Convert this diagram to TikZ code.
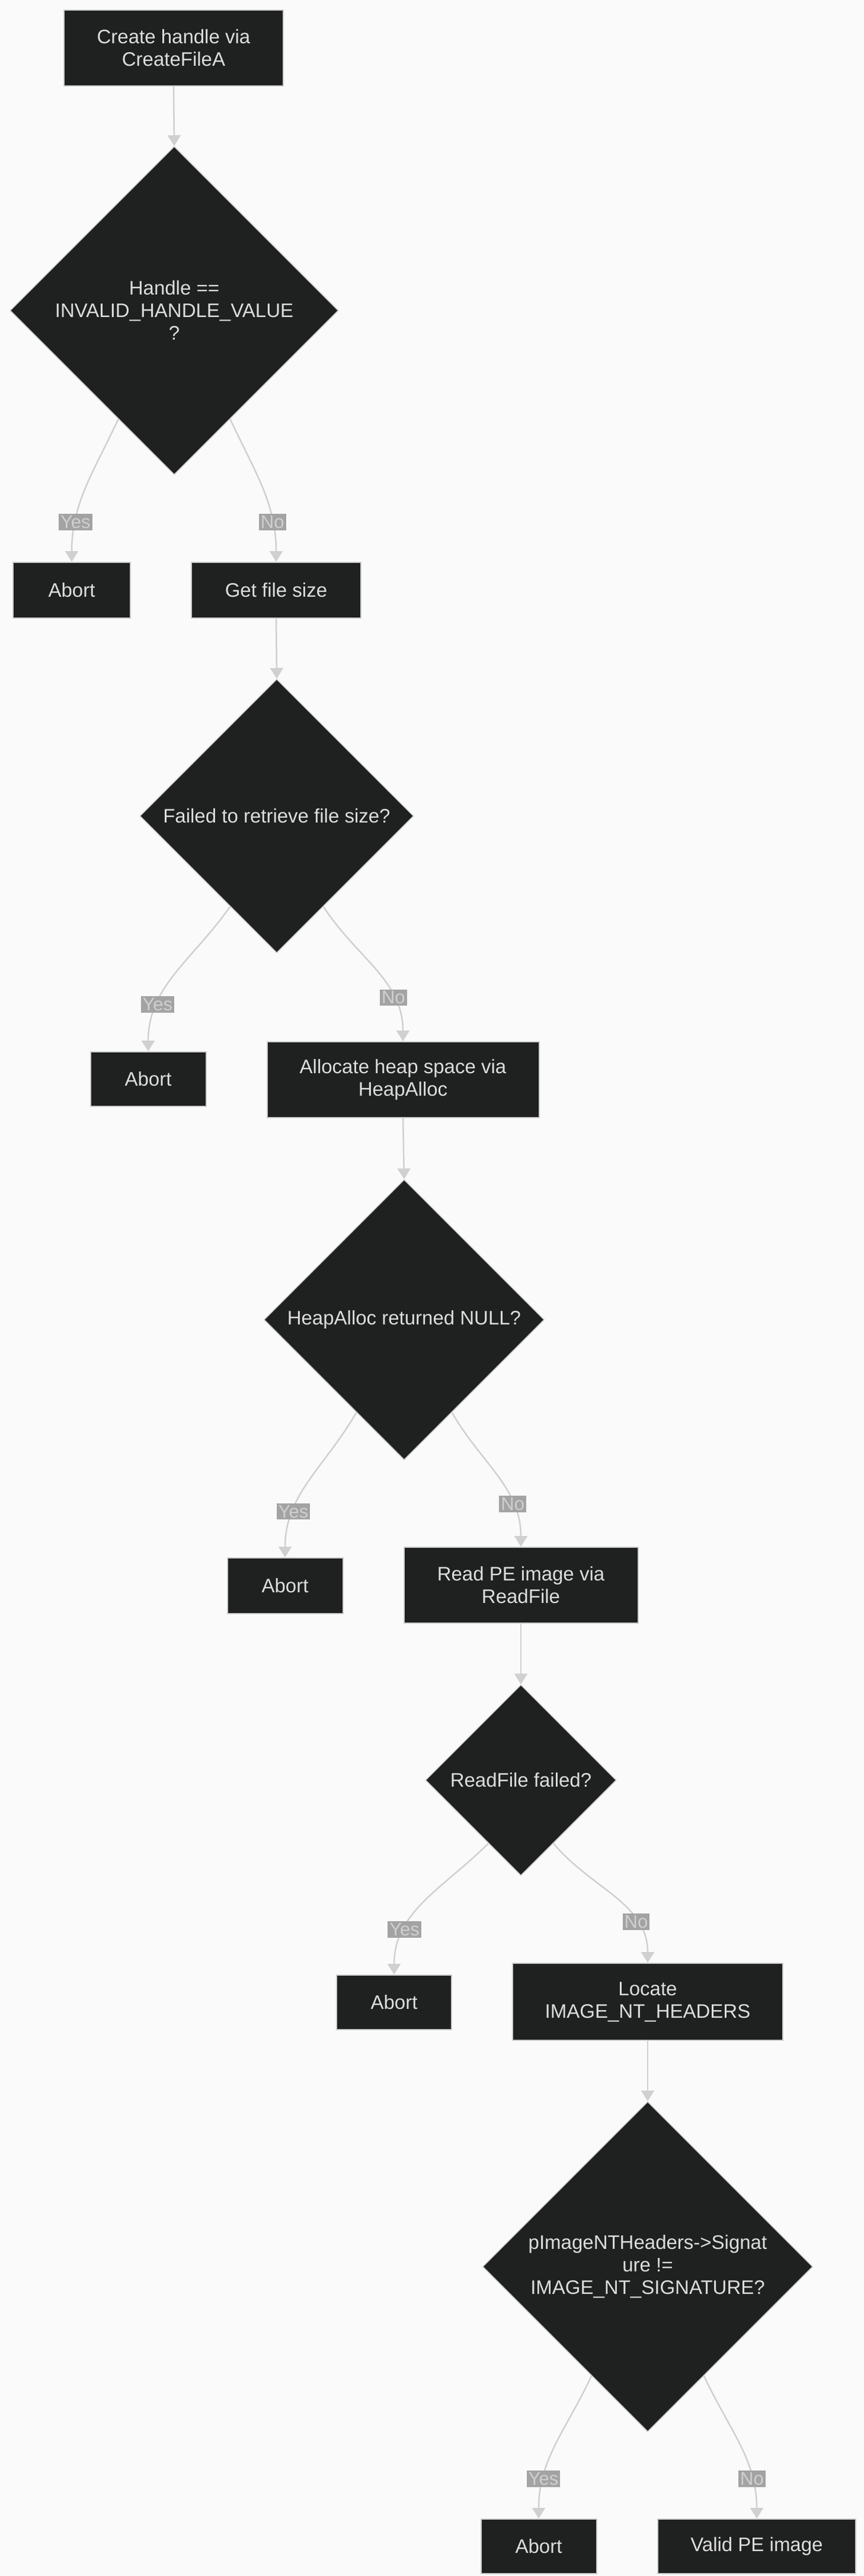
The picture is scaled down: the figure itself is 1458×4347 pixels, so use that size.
\documentclass[tikz,border=0pt]{standalone}
\usepackage{fontspec}
\setmainfont{Liberation Sans}
\usetikzlibrary{shapes.geometric,arrows.meta,calc}
\definecolor{bg}{HTML}{FAFAFA}
\definecolor{nodefill}{HTML}{1F2020}
\definecolor{nodeline}{HTML}{CCCCCC}
\definecolor{txt}{HTML}{DDDDDD}
\definecolor{edge}{HTML}{D0D0D0}
\definecolor{lblbg}{HTML}{A3A3A3}
\definecolor{lbltxt}{HTML}{CFCFCF}
\begin{document}
\begin{tikzpicture}[x=1pt,y=-1pt,
  every node/.style={font=\fontsize{33}{38}\selectfont},
  box/.style={draw=nodeline,line width=2pt,fill=nodefill,text=txt,align=center,inner sep=0pt},
  dia/.style={diamond,draw=nodeline,line width=1.5pt,fill=nodefill,text=txt,align=center,inner sep=0pt},
  arr/.style={draw=edge,line width=2.5pt,-{Triangle[length=18pt,width=22pt]}},
  lbl/.style={fill=lblbg,text=lbltxt,inner sep=3pt,font=\fontsize{31}{34}\selectfont}]
\useasboundingbox[fill=bg] (0,0) rectangle (1458,4347);
\node[box,minimum width=370,minimum height=128] (b1) at (293,81) {Create handle via\\CreateFileA};
\node[dia,minimum width=554,minimum height=554] (d1) at (294,524) {Handle ==\\INVALID\_HANDLE\_VALUE\\?};
\node[box,minimum width=198,minimum height=94] (a1) at (121,996) {Abort};
\node[box,minimum width=286,minimum height=94] (g) at (466,996) {Get file size};
\node[dia,minimum width=462,minimum height=462] (d2) at (467,1377) {Failed to retrieve file size?};
\node[box,minimum width=195,minimum height=92] (a2) at (250,1821) {Abort};
\node[box,minimum width=459,minimum height=128] (al) at (680,1822) {Allocate heap space via\\HeapAlloc};
\node[dia,minimum width=473,minimum height=473] (d3) at (682,2227) {HeapAlloc returned NULL?};
\node[box,minimum width=195,minimum height=94] (a3) at (481,2676) {Abort};
\node[box,minimum width=395,minimum height=128] (rd) at (879,2675) {Read PE image via\\ReadFile};
\node[dia,minimum width=322,minimum height=322] (d4) at (879,3004) {ReadFile failed?};
\node[box,minimum width=194,minimum height=92] (a4) at (665,3379) {Abort};
\node[box,minimum width=456,minimum height=130] (lc) at (1093,3378) {Locate\\IMAGE\_NT\_HEADERS};
\node[dia,minimum width=557,minimum height=557] (d5) at (1093,3825) {pImageNTHeaders->Signat\\ure !=\\IMAGE\_NT\_SIGNATURE?};
\node[box,minimum width=195,minimum height=92] (a5) at (909,4297) {Abort};
\node[box,minimum width=334,minimum height=92] (v) at (1277,4297) {Valid PE image};
\draw[arr] (b1.south) -- (d1.north);
\draw[arr] (g.south) -- (d2.north);
\draw[arr] (al.south) -- (d3.north);
\draw[arr] (rd.south) -- (d4.north);
\draw[arr] (lc.south) -- (d5.north);
\draw[arr] ($(d1.west)!0.66!(d1.south)$) to[out=-115,in=90] node[lbl,pos=0.75]{Yes} (a1.north);
\draw[arr] ($(d1.east)!0.66!(d1.south)$) to[out=-65,in=90] node[lbl,pos=0.75]{No} (g.north);
\draw[arr] ($(d2.west)!0.66!(d2.south)$) to[out=-125,in=90] node[lbl,pos=0.72]{Yes} (a2.north);
\draw[arr] ($(d2.east)!0.66!(d2.south)$) to[out=-57,in=90] node[lbl,pos=0.72]{No} (al.north);
\draw[arr] ($(d3.west)!0.66!(d3.south)$) to[out=-120,in=90] node[lbl,pos=0.72]{Yes} (a3.north);
\draw[arr] ($(d3.east)!0.66!(d3.south)$) to[out=-60,in=90] node[lbl,pos=0.72]{No} (rd.north);
\draw[arr] ($(d4.west)!0.66!(d4.south)$) to[out=-135,in=90] node[lbl,pos=0.72]{Yes} (a4.north);
\draw[arr] ($(d4.east)!0.66!(d4.south)$) to[out=-50,in=90] node[lbl,pos=0.72]{No} (lc.north);
\draw[arr] ($(d5.west)!0.66!(d5.south)$) to[out=-115,in=90] node[lbl,pos=0.75]{Yes} (a5.north);
\draw[arr] ($(d5.east)!0.66!(d5.south)$) to[out=-65,in=90] node[lbl,pos=0.75]{No} (v.north);
\end{tikzpicture}
\end{document}
